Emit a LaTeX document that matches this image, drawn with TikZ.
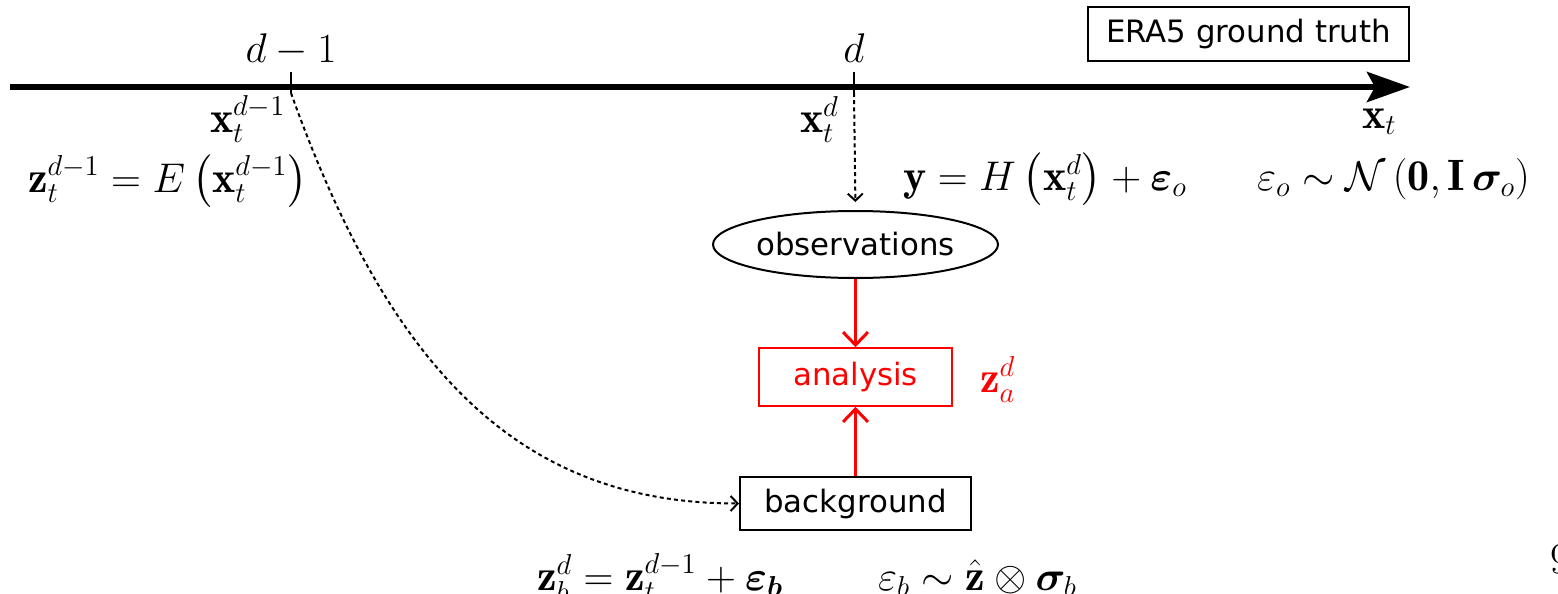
\documentclass[tikz,border=0pt]{standalone}
\usepackage{amsmath,amssymb,bm}
\usepackage{fontspec}
\newfontfamily\djs{DejaVu Sans}
\usetikzlibrary{arrows.meta,shapes.geometric}
\begin{document}
\begin{tikzpicture}[x=0.5pt,y=-0.5pt,
  mth/.style={font=\fontsize{22}{26}\selectfont, inner sep=0pt, outer sep=0pt},
  sans/.style={font=\djs\fontsize{15.4}{18}\selectfont},
  blkbox/.style={draw=black, line width=1pt, sans, inner sep=0pt},
  redbox/.style={draw=red, line width=0.8pt, text=red, sans, inner sep=0pt},
  dotarrow/.style={line width=1pt, dash pattern=on 2pt off 1.6pt, -{Straight Barb[length=3.5pt,width=7.5pt]}},
  redarrow/.style={draw=red, line width=1.5pt, -{Straight Barb[length=6.5pt,width=12.5pt]}},
  tickmark/.style={line width=0.7pt}]
\useasboundingbox (0,0) rectangle (1558,594);

% time axis
\coordinate (axs) at (10,87);
\coordinate (axe) at (1410,87);
\draw[line width=3pt, -{Stealth[length=21.5pt,width=15pt,inset=4pt]}] (axs) -- (axe);

% ticks
\coordinate (tAt) at (291,72);
\coordinate (tAb) at (291,93);
\coordinate (tBt) at (854,72);
\coordinate (tBb) at (854,93);
\draw[tickmark] (tAt) -- (tAb);
\draw[tickmark] (tBt) -- (tBb);

% labels on axis
\node[mth, anchor=base] (ldm) at (291,62) {$d-1$};
\node[mth, anchor=base] (ld) at (854,62) {$d$};
\node[mth, anchor=base west] (xtdm) at (210,132) {$\mathbf{x}_t^{d-1}$};
\node[mth, anchor=base west] (xtd) at (800,132) {$\mathbf{x}_t^{d}$};
\node[mth, anchor=base west] (xt) at (1362,128) {$\mathbf{x}_t$};
\node[mth, anchor=base west] (zeq) at (28,192) {$\mathbf{z}_t^{d-1} = E\left(\mathbf{x}_t^{d-1}\right)$};
\node[mth, anchor=base west] (yeq) at (903,190) {$\mathbf{y} = H\left(\mathbf{x}_t^{d}\right) + \boldsymbol{\varepsilon}_o$};
\node[mth, anchor=base west] (neq) at (1257,190) {$\varepsilon_o \sim \mathcal{N}\left(\mathbf{0},\mathbf{I}\,\boldsymbol{\sigma}_o\right)$};

% ERA5 box
\node[blkbox, minimum width=160.5pt, minimum height=27pt] (era) at (1248.5,34) {ERA5 ground truth};

% boxes
\node[ellipse, draw=black, line width=1pt, sans, inner sep=0pt, minimum width=142.5pt, minimum height=33.5pt] (obs) at (855.5,244.5) {observations};
\node[redbox, minimum width=96.5pt, minimum height=29pt] (ana) at (855.5,377) {analysis};
\node[blkbox, minimum width=115.5pt, minimum height=26.5pt] (bg) at (855.5,503.5) {background};

\node[mth, anchor=base west, text=red] (za) at (980,392) {$\mathbf{z}_a^{d}$};

% bottom equations
\node[mth, anchor=base west] (beq) at (537,590) {$\mathbf{z}_b^{d} = \mathbf{z}_t^{d-1} + \boldsymbol{\varepsilon_b}$};
\node[mth, anchor=base west] (bdist) at (878,590) {$\varepsilon_b \sim \hat{\mathbf{z}} \otimes \boldsymbol{\sigma}_b$};

% page number (cut off)
\node[mth, anchor=base west] (pg) at (1550,573) {9};

% connectors
\draw[dotarrow, shorten >=4pt] (tBb) -- (obs.north);
\draw[dotarrow] (tAb) .. controls (390,370) and (520,503.5) .. (bg.west);
\draw[redarrow] (obs.south) -- (ana.north);
\draw[redarrow] (bg.north) -- (ana.south);
\end{tikzpicture}
\end{document}
